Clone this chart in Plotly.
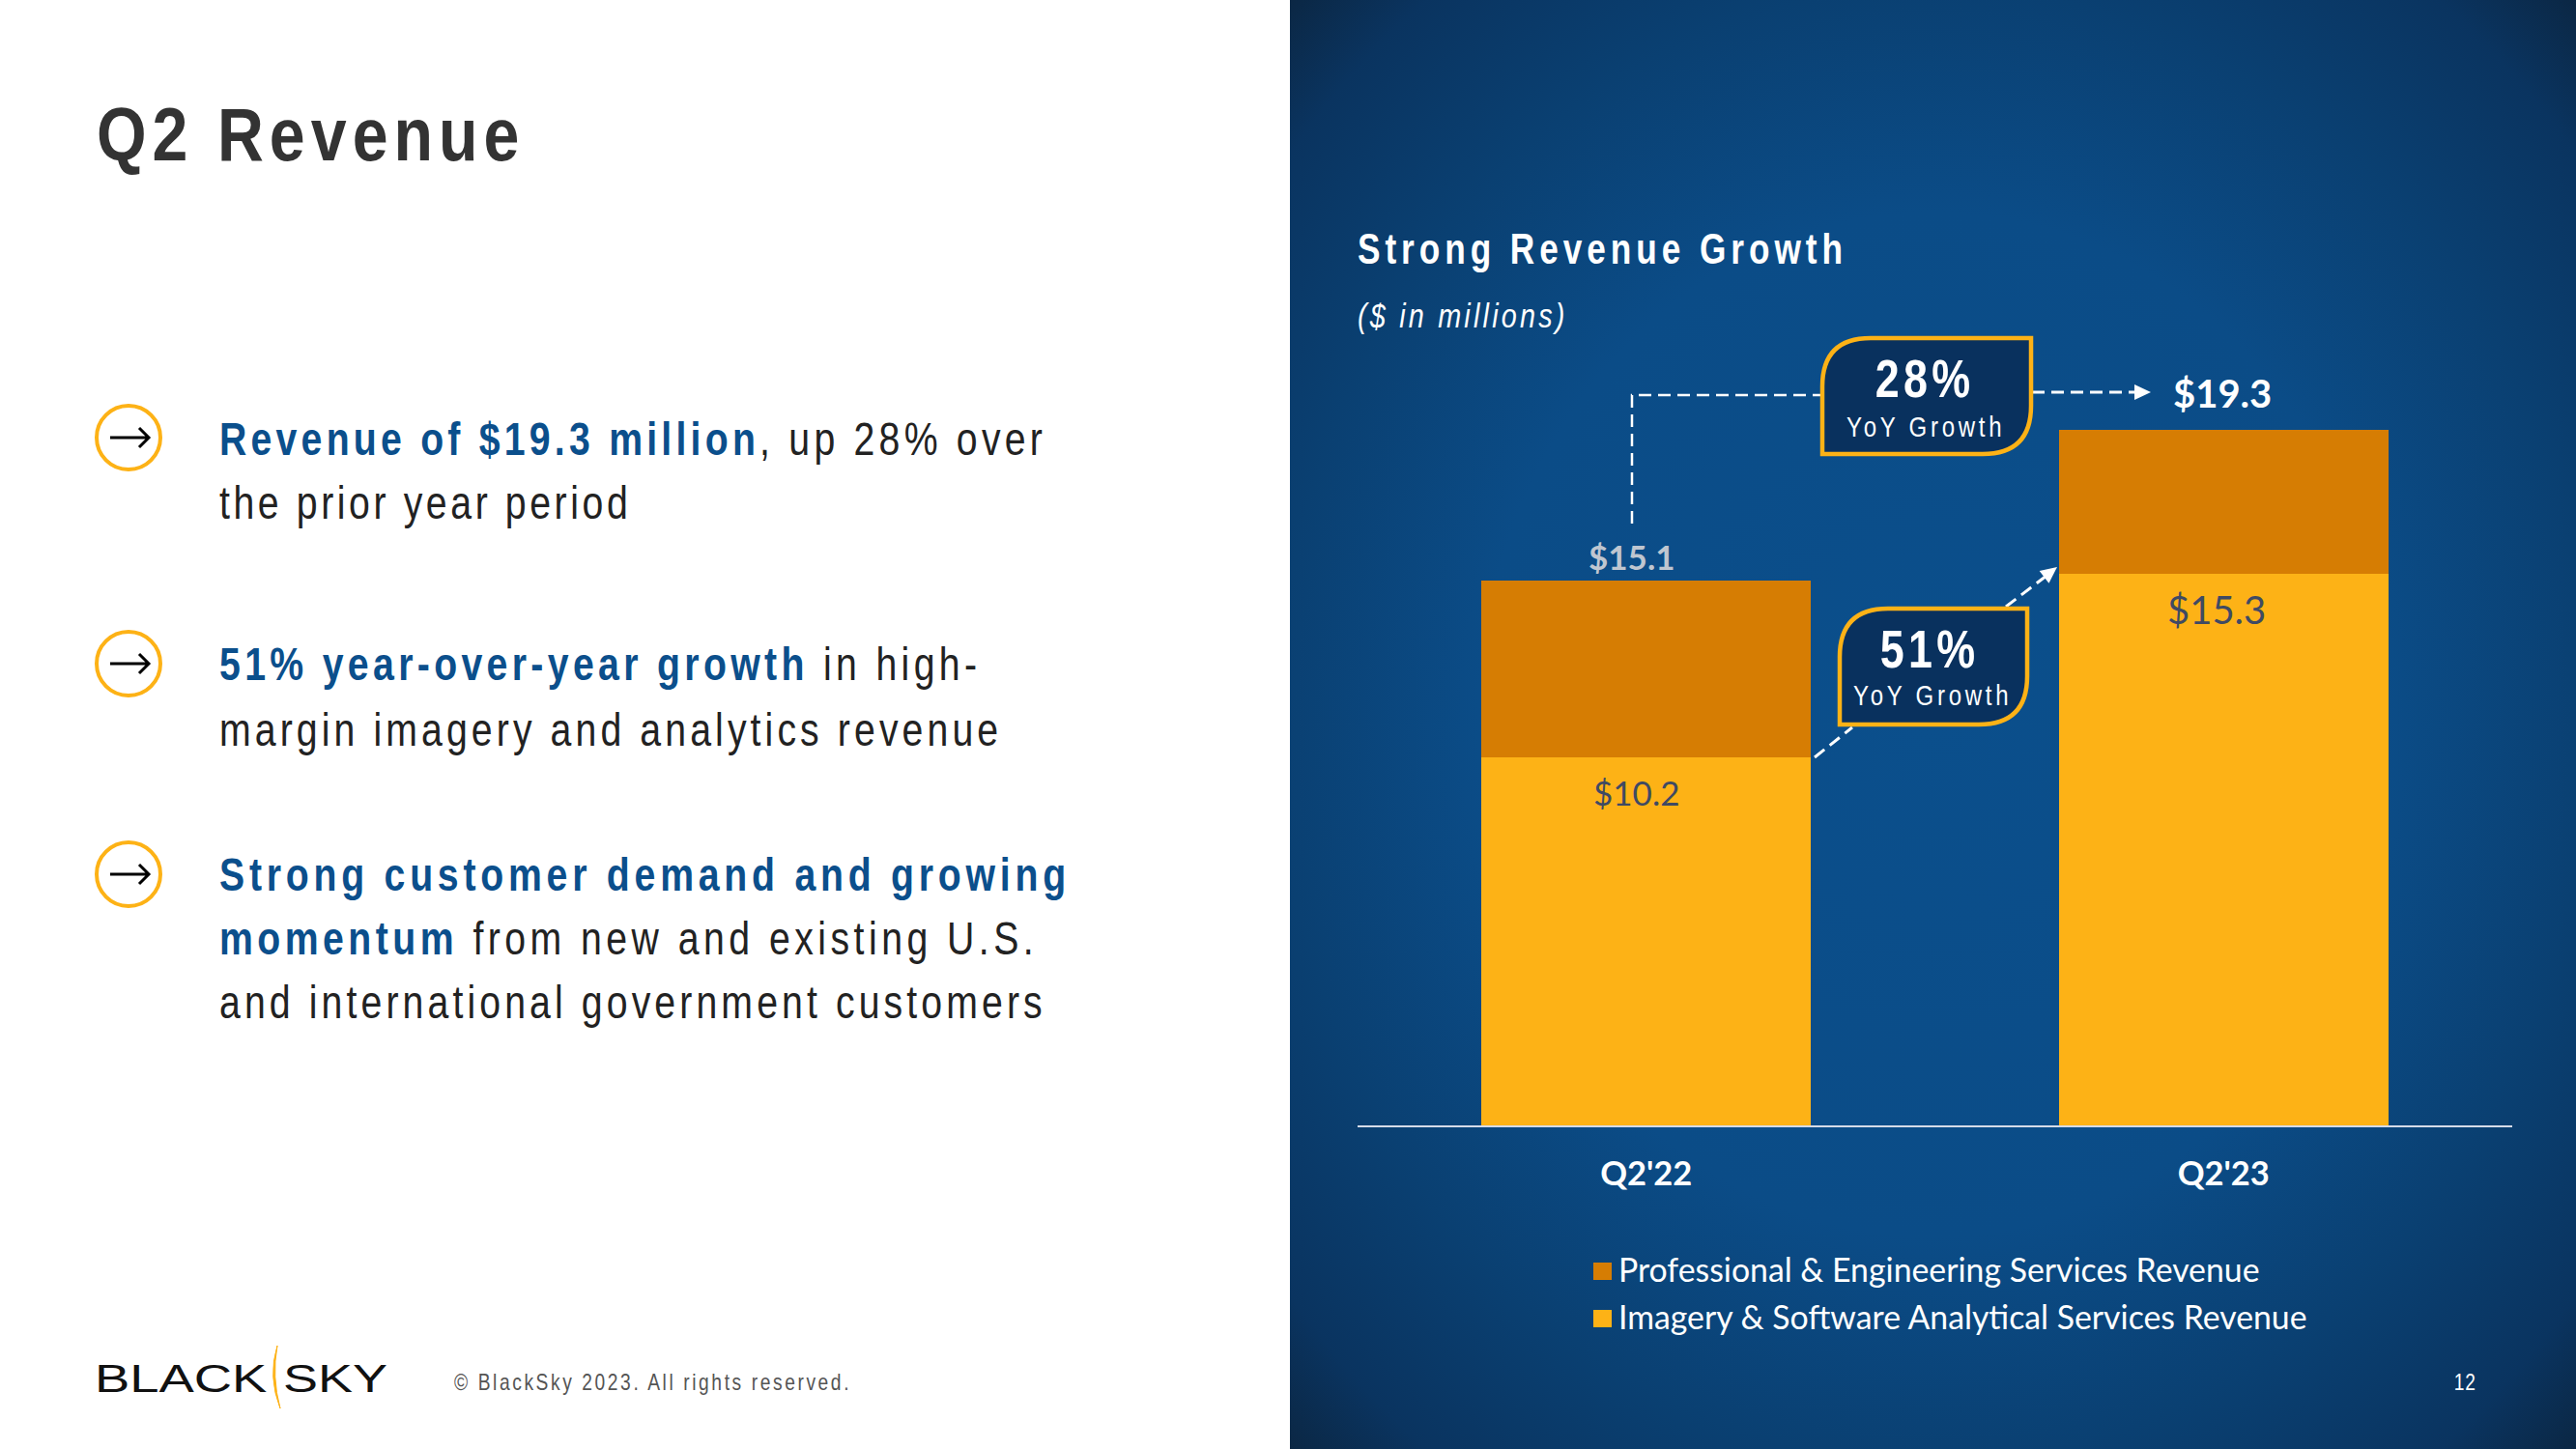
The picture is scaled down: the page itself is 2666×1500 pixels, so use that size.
import json
import plotly.graph_objects as go

W, H = 2666, 1500
categories = ["Q2'22", "Q2'23"]
imagery_values = [10.2, 15.3]
services_values = [4.9, 4.0]
total_labels = [15.1, 19.3]
legend_names = ["Professional & Engineering Services Revenue", "Imagery & Software Analytical Services Revenue"]

GOLD = "#FDB216"
ORANGE = "#D67D03"
NAVY = "#09315E"
BLUE = "#0B4F8C"
SANS = "'Liberation Sans',sans-serif"
LATO = "Lato,sans-serif"

def X(p): return p / W
def Y(p): return 1 - p / H

annotations, spacing, squeeze, shapes = [], [], [], []

def text(x, y, s, size, color, family=SANS, anchor="left", ls=0, sx=0.8):
    annotations.append(dict(x=X(x), y=Y(y), xref="paper", yref="paper", text=s, showarrow=False,
                            xanchor=anchor, yanchor="middle", align=anchor,
                            font=dict(size=size, color=color, family=family)))
    spacing.append(ls)
    squeeze.append(sx)

def label(cat, val, s, size, color, xs, ys):
    annotations.append(dict(x=cat, y=val, xref="x2", yref="y2", text=s, showarrow=False,
                            xanchor="center", yanchor="middle", xshift=xs, yshift=ys,
                            font=dict(size=size, color=color, family=LATO)))
    spacing.append(0)
    squeeze.append(1)

def path(d, fill=None, color=None, width=0, dash=None):
    line = dict(width=width)
    if color: line["color"] = color
    if dash: line["dash"] = dash
    s = dict(type="path", xref="paper", yref="paper", path=d, line=line)
    if fill: s["fillcolor"] = fill
    shapes.append(s)

def P(x, y): return f"{X(x):.5f},{Y(y):.5f}"

def badge(x0, y0, x1, y1, r):
    path(f"M {P(x0, y1)} L {P(x0, y0 + r)} Q {P(x0, y0)} {P(x0 + r, y0)} L {P(x1, y0)} "
         f"L {P(x1, y1 - r)} Q {P(x1, y1)} {P(x1 - r, y1)} Z", fill=NAVY, color=GOLD, width=4.5)

def dashed(pts, width=3):
    d = "M " + " L ".join(P(*q) for q in pts)
    path(d, color="white", width=width, dash="13px,7px")

def head(tx, ty, ux, uy, length=17, half=8):
    bx, by = tx - ux * length, ty - uy * length
    nx, ny = -uy, ux
    path(f"M {P(tx, ty)} L {P(bx + nx * half, by + ny * half)} L {P(bx - nx * half, by - ny * half)} Z", fill="white")

# ---- bullets
for cy in (453, 687, 905):
    shapes.append(dict(type="circle", xref="paper", yref="paper", x0=X(133 - 33), x1=X(133 + 33),
                       y0=Y(cy - 33), y1=Y(cy + 33), line=dict(color=GOLD, width=4)))
    path(f"M {P(114, cy)} L {P(153, cy)} M {P(144, cy - 10)} L {P(154, cy)} L {P(144, cy + 10)}", color="#000000", width=3)

def B(s): return f"<b><span style='color:{BLUE}'>{s}</span></b>"
BODY = "#222222"
lines = [
    (454, B("Revenue of $19.3 million") + ", up 28% over", 5.3),
    (520, "the prior year period", 4.5),
    (687, B("51% year-over-year growth") + " in high-", 5.44),
    (755, "margin imagery and analytics revenue", 5.14),
    (905, B("Strong customer demand and growing"), 5.97),
    (971, B("momentum") + " from new and existing U.S.", 5.6),
    (1037, "and international government customers", 5.15),
]
text(98, 139, "<b>Q2 Revenue</b>", 78, "#333333", ls=7.1, sx=0.85)
for y, s, ls in lines:
    text(224.5, y, s, 49, BODY, ls=ls)

# ---- footer
text(468, 1430, "© BlackSky 2023. All rights reserved.", 24, "#555555", ls=3.25)
text(96, 1427, "BLACK", 40, "#111111", sx=1.36)
text(291, 1427, "SKY", 40, "#111111", sx=1.35)
path(f"M {P(287, 1393)} Q {P(277, 1425)} {P(290, 1458)} Q {P(281, 1425)} {P(287, 1393)} Z", fill=GOLD, color=GOLD, width=1)

# ---- right panel texts
text(1403, 258, "<b>Strong Revenue Growth</b>", 44, "white", ls=6.2)
text(1403, 326, "<i>($ in millions)</i>", 36, "white", ls=4)
text(2551, 1430, "12", 24, "white", anchor="center", ls=1)

# ---- connector lines and badges
dashed([(1689, 542), (1689, 409), (1886, 409)], width=2.5)
dashed([(2103, 406), (2210, 406)])
head(2226, 406, 1, 0)
dashed([(1878, 784), (1917, 753)])
dashed([(2076, 628), (2118, 596)])
head(2129, 587, 0.79, -0.61)
badge(1886, 350, 2102, 470, 50)
badge(1904, 630, 2098, 750, 50)
text(1992, 392, "<b>28%</b>", 56, "white", anchor="center", ls=5.3)
text(1993, 442, "YoY Growth", 30, "white", anchor="center", ls=4.7)
text(1997, 672, "<b>51%</b>", 56, "white", anchor="center", ls=5.3)
text(2000, 719, "YoY Growth", 30, "white", anchor="center", ls=4.7)

# ---- data labels
label(categories[0], total_labels[0], f"<b>${total_labels[0]}</b>", 35, "#BFC6D0", -15, 25)
label(categories[1], total_labels[1], f"<b>${total_labels[1]}</b>", 40, "white", -1, 38)
label(categories[0], imagery_values[0], f"${imagery_values[0]}", 35, "#3F4A63", -10, -36)
label(categories[1], imagery_values[1], f"${imagery_values[1]}", 40, "#3F4A63", -7, -37)

# ---- legend
for name, color, cy in zip(legend_names, [ORANGE, GOLD], [1316, 1365]):
    shapes.append(dict(type="rect", xref="paper", yref="paper", x0=X(1649), x1=X(1668), y0=Y(cy - 9), y1=Y(cy + 9),
                       fillcolor=color, line=dict(width=0)))
    text(1673, cy - 2.5, name, 33.8, "white", family=LATO, sx=1)

fig = go.Figure()
# panel background (radial gradient, clipped to its own axes)
fig.add_trace(go.Scatter(x=[-0.207, 1.207, 1.207, -0.207, -0.207], y=[-0.207, -0.207, 1.207, 1.207, -0.207],
                         mode="lines", line=dict(width=0), fill="toself", hoverinfo="skip", showlegend=False,
                         fillgradient=dict(type="radial", colorscale=[[0, "#0B4F8C"], [0.5, "#0B4C87"], [0.72, "#0A4072"], [0.9, "#0A3460"], [1, "#0B2744"]]),
                         xaxis="x", yaxis="y"))
fig.add_trace(go.Bar(x=categories, y=imagery_values, name=legend_names[1], marker=dict(color=GOLD, line=dict(width=0)),
                     width=0.57, xaxis="x2", yaxis="y2", showlegend=False))
fig.add_trace(go.Bar(x=categories, y=services_values, name=legend_names[0], marker=dict(color=ORANGE, line=dict(width=0)),
                     width=0.57, xaxis="x2", yaxis="y2", showlegend=False))

fig.update_layout(
    width=W, height=H, margin=dict(l=0, r=0, t=0, b=0), barmode="stack",
    paper_bgcolor="white", plot_bgcolor="rgba(0,0,0,0)", showlegend=False,
    xaxis=dict(domain=[1335 / W, 1], range=[0, 1], visible=False, fixedrange=True),
    yaxis=dict(domain=[0, 1], range=[0, 1], visible=False, fixedrange=True),
    xaxis2=dict(domain=[1405 / W, 2600 / W], anchor="y2", type="category", range=[-0.5, 1.5],
                showline=True, linecolor="#D5DBE8", linewidth=2, ticks="", showgrid=False,
                tickfont=dict(size=34.5, color="white", family="Lato,sans-serif", weight=700), ticklabelstandoff=19),
    yaxis2=dict(domain=[(H - 1165) / H, (H - 418.5) / H], anchor="x2", range=[0, 20], visible=False, showgrid=False),
    annotations=annotations, shapes=shapes, font=dict(family=SANS),
)

post = """
document.body.style.margin = '0';
var sp = %s, sq = %s;
document.querySelectorAll('.annotation').forEach(function (a) {
  var i = +a.getAttribute('data-index');
  var t = a.querySelector('text');
  if (!t) return;
  if (sp[i]) t.style.letterSpacing = sp[i] + 'px';
  if (sq[i] !== 1) {
    var x = parseFloat(t.getAttribute('x')) || 0;
    t.setAttribute('transform', 'translate(' + x + ',0) scale(' + sq[i] + ',1) translate(' + (-x) + ',0)');
  }
});
""" % (json.dumps(spacing), json.dumps(squeeze))
fig.write_html("out.html", post_script=post, config={"displayModeBar": False})
